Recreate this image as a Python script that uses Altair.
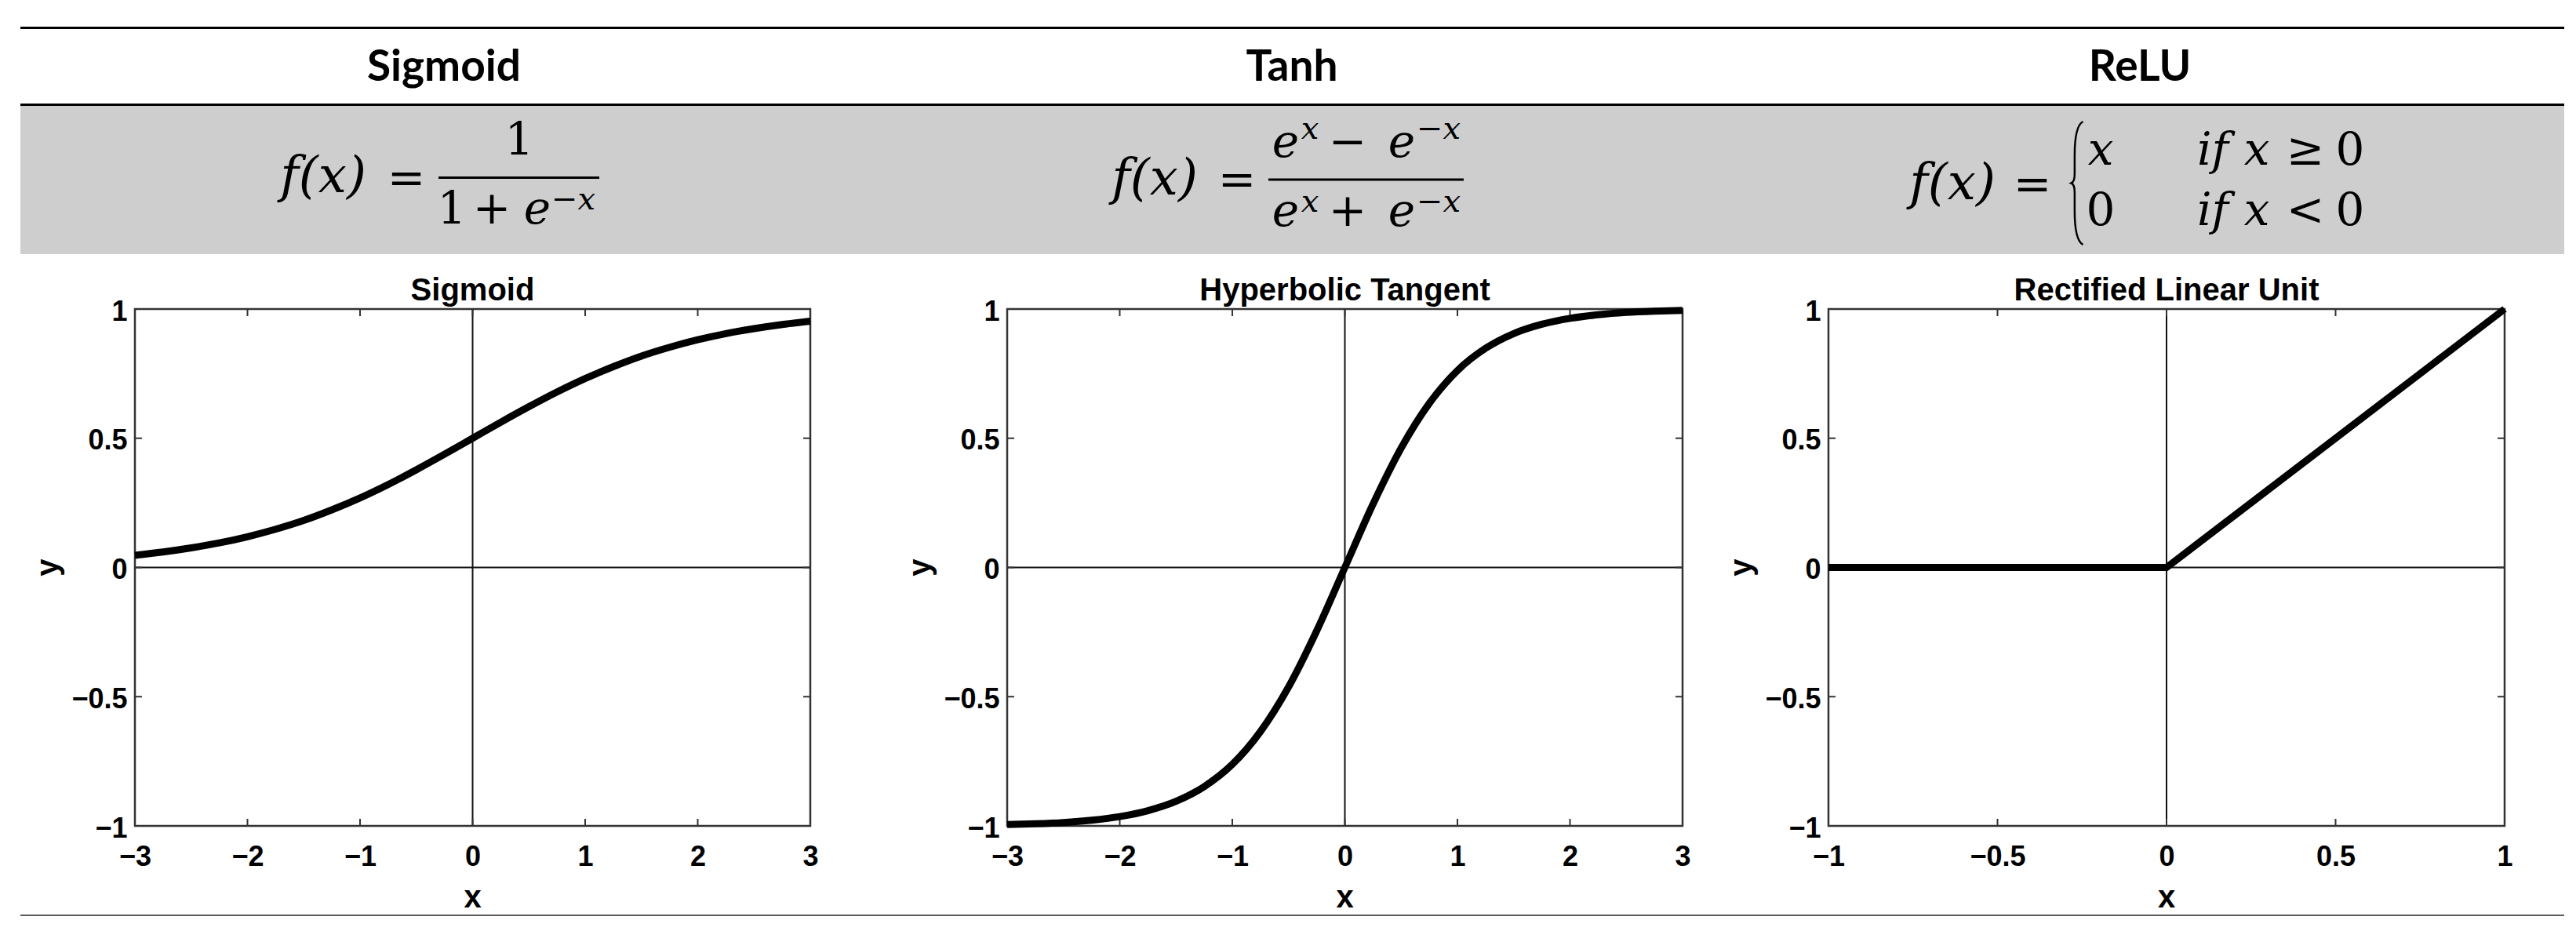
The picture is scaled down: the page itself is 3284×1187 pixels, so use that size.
import altair as alt
import pandas as pd

# ---------------- data ----------------
curve_x = [-3, -2.75, -2.5, -2.25, -2, -1.75, -1.5, -1.25, -1, -0.75, -0.5, -0.25, 0,
           0.25, 0.5, 0.75, 1, 1.25, 1.5, 1.75, 2, 2.25, 2.5, 2.75, 3]
sigmoid_y = [0.047, 0.060, 0.076, 0.095, 0.119, 0.148, 0.182, 0.223, 0.269, 0.321, 0.378, 0.438, 0.5,
             0.562, 0.622, 0.679, 0.731, 0.777, 0.818, 0.852, 0.881, 0.905, 0.924, 0.940, 0.953]
tanh_y = [-0.995, -0.992, -0.987, -0.978, -0.964, -0.941, -0.905, -0.848, -0.762, -0.635, -0.462, -0.245, 0.0,
          0.245, 0.462, 0.635, 0.762, 0.848, 0.905, 0.941, 0.964, 0.978, 0.987, 0.992, 0.995]
relu_x = [-1, 0, 1]
relu_y = [0, 0, 1]

y_ticks = [-1, -0.5, 0, 0.5, 1]
wide_ticks = [-3, -2, -1, 0, 1, 2, 3]
relu_ticks = [-1, -0.5, 0, 0.5, 1]

column_titles = ["Sigmoid", "Tanh", "ReLU"]
plot_titles = ["Sigmoid", "Hyperbolic Tangent", "Rectified Linear Unit"]
x_title = "x"
y_title = "y"

# ---------------- layout / style ----------------
H = 659
WIDTHS = [861, 861, 862]
GAPS = [251, 186]
BOX = "#333333"
AX_FONT = "Liberation Sans"
MATH = "DejaVu Serif"
ONE = pd.DataFrame({"a": [0]})
BRACE = ("M0.095,-1 C0.0,-0.95 -0.04,-0.75 -0.04,-0.45 L-0.04,-0.15 "
         "C-0.04,-0.05 -0.07,-0.01 -0.095,0 C-0.07,0.01 -0.04,0.05 -0.04,0.15 "
         "L-0.04,0.45 C-0.04,0.75 0.0,0.95 0.095,1")
AXIS_STYLE = dict(format="~g", labelFlush=False, labelOverlap=False, title=None,
                  labelFont=AX_FONT, labelFontSize=36, labelFontWeight="bold",
                  labelColor="black", grid=False, domain=False, ticks=False, tickSize=0)


def text_piece(txt, x, y, size, style="normal", weight="normal", font=MATH, angle=0,
               baseline="alphabetic"):
    return alt.Chart(pd.DataFrame({"s": [txt]})).mark_text(
        font=font, fontSize=size, fontStyle=style, fontWeight=weight,
        align="center", baseline=baseline, color="black", angle=angle,
    ).encode(x=alt.value(x), y=alt.value(y), text="s:N")


def hrule(x1, x2, y, width, color="black"):
    return alt.Chart(ONE).mark_rule(color=color, strokeWidth=width).encode(
        x=alt.value(x1), x2=alt.value(x2), y=alt.value(y))


def panel(xs_vals, ys_vals, xdomain, xticks, title, W, interp, extra=()):
    xs = alt.Scale(domain=xdomain, nice=False, zero=False)
    ys = alt.Scale(domain=[-1, 1], nice=False, zero=False)
    xaxis = alt.Axis(values=xticks, labelPadding=22, orient="bottom", **AXIS_STYLE)
    yaxis = alt.Axis(values=y_ticks, labelPadding=10, labelOffset=3, orient="left", **AXIS_STYLE)
    df = pd.DataFrame({"x": xs_vals, "y": ys_vals})
    zero = pd.DataFrame({"v": [0]})
    xt = pd.DataFrame({"t": xticks})
    yt = pd.DataFrame({"t": y_ticks})

    box = alt.Chart(ONE).mark_rect(fillOpacity=0, stroke=BOX, strokeWidth=2.5).encode(
        x=alt.value(0), x2=alt.value(W), y=alt.value(0), y2=alt.value(H))
    vzero = alt.Chart(zero).mark_rule(color="#111111", strokeWidth=2).encode(
        x=alt.X("v:Q", scale=xs, axis=xaxis))
    hzero = alt.Chart(zero).mark_rule(color="#111111", strokeWidth=2).encode(
        y=alt.Y("v:Q", scale=ys, axis=yaxis))
    tb = alt.Chart(xt).mark_rule(color=BOX, strokeWidth=2).encode(
        x=alt.X("t:Q", scale=xs, axis=xaxis), y=alt.value(H - 9), y2=alt.value(H))
    tt = alt.Chart(xt).mark_rule(color=BOX, strokeWidth=2).encode(
        x=alt.X("t:Q", scale=xs, axis=xaxis), y=alt.value(0), y2=alt.value(9))
    tl = alt.Chart(yt).mark_rule(color=BOX, strokeWidth=2).encode(
        y=alt.Y("t:Q", scale=ys, axis=yaxis), x=alt.value(0), x2=alt.value(9))
    tr = alt.Chart(yt).mark_rule(color=BOX, strokeWidth=2).encode(
        y=alt.Y("t:Q", scale=ys, axis=yaxis), x=alt.value(W - 9), x2=alt.value(W))

    line = alt.Chart(df).mark_line(color="black", strokeWidth=9, interpolate=interp).encode(
        x=alt.X("x:Q", scale=xs, axis=xaxis),
        y=alt.Y("y:Q", scale=ys, axis=yaxis),
    )
    ttl = text_piece(title, W / 2, -11, 40, weight="bold", font=AX_FONT)
    xt_lbl = text_piece(x_title, W / 2, 763, 40, weight="bold", font=AX_FONT)
    yt_lbl = text_piece(y_title, -110, H / 2, 40, weight="bold", font=AX_FONT,
                        angle=270, baseline="middle")
    layers = list(extra) + [box, vzero, hzero, tb, tt, tl, tr, line, ttl, xt_lbl, yt_lbl]
    return alt.layer(*layers).properties(width=W, height=H)


# ---------------- header table (positions relative to first plot) ----------------
L, R = -146, 3097
header = [
    alt.Chart(ONE).mark_rect(color="#cecece").encode(
        x=alt.value(L), x2=alt.value(R), y=alt.value(-259), y2=alt.value(-70)),
    hrule(L, R, -358.5, 3),
    hrule(L, R, -260.5, 3),
    hrule(L, R, 773, 2, "#5a5a5a"),
]
for t, cx in zip(column_titles, [394, 1475, 2556]):
    header.append(text_piece(t, cx, -291, 55, weight="bold", font="Lato"))

M, S, F = 58, 40, 64
# Sigmoid formula
header += [
    text_piece("f(x)", 240, -149, F, "italic"),
    text_piece("=", 346, -148, M),
    text_piece("1", 490, -197, M),
    hrule(387, 592, -167.5, 3),
    text_piece("1", 404, -109, M),
    text_piece("+", 455, -109, M),
    text_piece("e", 513, -109, M, "italic"),
    text_piece("\u2212x", 559, -127, S, "italic"),
]
# Tanh formula
header += [
    text_piece("f(x)", 1300, -146, F, "italic"),
    text_piece("=", 1405, -146, M),
    text_piece("e", 1467, -194, M, "italic"),
    text_piece("x", 1498, -217, S, "italic"),
    text_piece("\u2212", 1546, -194, M),
    text_piece("e", 1615, -194, M, "italic"),
    text_piece("\u2212x", 1662, -217, S, "italic"),
    hrule(1445, 1694, -165, 3),
    text_piece("e", 1467, -106, M, "italic"),
    text_piece("x", 1498, -124, S, "italic"),
    text_piece("+", 1546, -106, M),
    text_piece("e", 1615, -106, M, "italic"),
    text_piece("\u2212x", 1662, -124, S, "italic"),
]
# ReLU formula
header += [
    text_piece("f(x)", 2317, -140, F, "italic"),
    text_piece("=", 2419, -140, M),
    alt.Chart(ONE).mark_point(shape=BRACE, size=157 * 157, filled=False, color="black",
                              strokeWidth=2.5, opacity=1).encode(
        x=alt.value(2476), y=alt.value(-160.5)),
    text_piece("x", 2506, -184, M, "italic"),
    text_piece("if", 2649, -184, M, "italic"),
    text_piece("x", 2705, -184, M, "italic"),
    text_piece("\u2265", 2767, -184, M),
    text_piece("0", 2824, -184, M),
    text_piece("0", 2506, -107, M),
    text_piece("if", 2649, -107, M, "italic"),
    text_piece("x", 2705, -107, M, "italic"),
    text_piece("<", 2767, -107, M),
    text_piece("0", 2824, -107, M),
]

p1 = panel(curve_x, sigmoid_y, [-3, 3], wide_ticks, plot_titles[0], WIDTHS[0], "monotone", header)
p2 = panel(curve_x, tanh_y, [-3, 3], wide_ticks, plot_titles[1], WIDTHS[1], "monotone")
p3 = panel(relu_x, relu_y, [-1, 1], relu_ticks, plot_titles[2], WIDTHS[2], "linear")


def spacer(w):
    return alt.Chart(ONE).mark_point(opacity=0).encode(
        x=alt.value(0), y=alt.value(0)).properties(width=w, height=H)


chart = alt.hconcat(p1, spacer(GAPS[0]), p2, spacer(GAPS[1]), p3, spacing=0, bounds="flush").properties(
    padding={"left": 16, "top": 26, "right": 0, "bottom": 0},
    autosize=alt.AutoSizeParams(type="pad"),
    background="white",
).configure_view(strokeWidth=0)

chart.save("out.html", embed_options={"renderer": "svg", "actions": False})
